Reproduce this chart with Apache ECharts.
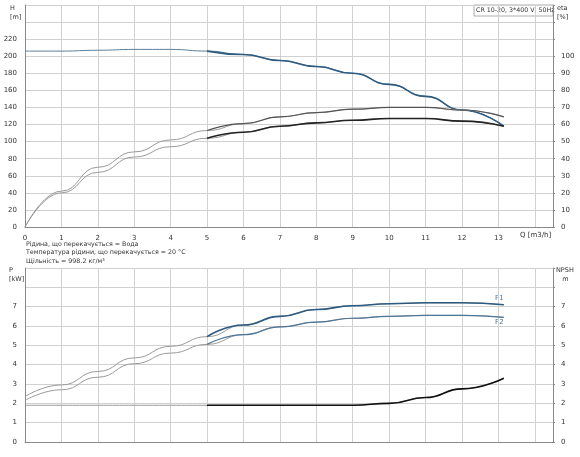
<!DOCTYPE html>
<html><head><meta charset="utf-8">
<script src="https://cdn.jsdelivr.net/npm/echarts@6/dist/echarts.min.js"></script>
<style>body{margin:0;background:#fff}#c{width:580px;height:457px}</style></head>
<body><div id="c"></div>
<script>
const qTop = [0,1,2,3,4,5,6,7,8,9,10,11,12,13.15];
const headH = [206,206,207,208,208,206,202,195,188,180,167,153,137,118];
const eta1 = [0,21,35,44,51,56.5,60.5,64.5,67,69,70,70,68.5,64.5];
const eta2 = [0,20,32,41,47,52,55.5,59,61,62.5,63.5,63.5,62,59];
const powerP1 = [2.35,2.95,3.65,4.35,4.95,5.45,6.05,6.5,6.85,7.05,7.15,7.2,7.2,7.1];
const powerP2 = [2.15,2.7,3.35,4.05,4.6,5.05,5.55,5.95,6.2,6.4,6.5,6.55,6.55,6.45];
const npsh = [1.9,1.9,1.9,1.9,1.9,1.9,1.9,1.9,1.9,1.9,2.0,2.3,2.75,3.3];
const xTicks = [0,1,2,3,4,5,6,7,8,9,10,11,12,13];
const infoLines = ['Рідина, що перекачується = Вода','Температура рідини, що перекачується = 20 °C','Щільність = 998.2 кг/м³'];

const pairs = (ys, from=0) => qTop.map((q,i)=>[q,ys[i]]).filter(p=>p[0]>=from);
const axisLbl = {fontSize:7,color:'#333',fontFamily:'DejaVu Sans'};
const split = {show:true,lineStyle:{color:'#d0d0d0',width:1}};
const axLine = {show:true,lineStyle:{color:'#888'}};
function line(x,y,data,color,w){return {type:'line',xAxisIndex:x,yAxisIndex:y,data,smooth:0.5,smoothMonotone:'x',symbol:'none',lineStyle:{color,width:w},silent:true};}
const chart = echarts.init(document.getElementById('c'));
chart.setOption({
  animation:false,
  grid:[{left:25,right:27,top:5,height:222},{left:25,right:27,top:268,height:174}],
  xAxis:[
    {gridIndex:0,type:'value',min:0,max:14.5,interval:1,axisLabel:{...axisLbl,formatter:v=>xTicks.includes(v)?v:''},axisLine:axLine,axisTick:{show:false},splitLine:split},
    {gridIndex:1,type:'value',min:0,max:14.5,interval:1,axisLabel:{show:false},axisLine:axLine,axisTick:{show:false},splitLine:split}
  ],
  yAxis:[
    {gridIndex:0,type:'value',min:0,max:260,interval:20,axisLabel:{...axisLbl,formatter:v=>v<=220?v:''},axisLine:axLine,axisTick:{show:false},splitLine:split},
    {gridIndex:0,type:'value',min:0,max:130,interval:10,position:'right',axisLabel:{...axisLbl,formatter:v=>v<=100?v:''},axisLine:axLine,axisTick:{show:true,length:2},splitLine:{show:false}},
    {gridIndex:1,type:'value',min:0,max:9,interval:1,axisLabel:{...axisLbl,formatter:v=>v<=7?v:''},axisLine:axLine,axisTick:{show:false},splitLine:split},
    {gridIndex:1,type:'value',min:0,max:9,interval:1,position:'right',axisLabel:{...axisLbl,formatter:v=>v<=7?v:''},axisLine:axLine,axisTick:{show:true,length:2},splitLine:{show:false}}
  ],
  series:[
    line(0,0,pairs(headH),'#5a7f9c',1),
    line(0,0,pairs(headH,5),'#2d5b80',1.6),
    line(0,1,pairs(eta1),'#9a9a9a',1),
    line(0,1,pairs(eta1,5),'#555',1.2),
    line(0,1,pairs(eta2),'#9a9a9a',1),
    line(0,1,pairs(eta2,5),'#222',1.6),
    line(1,2,pairs(powerP1),'#9a9a9a',1),
    line(1,2,pairs(powerP1,5),'#2d5b80',1.6),
    line(1,2,pairs(powerP2),'#9a9a9a',1),
    line(1,2,pairs(powerP2,5),'#4f7797',1.2),
    line(1,3,pairs(npsh),'#9a9a9a',1),
    line(1,3,pairs(npsh,5),'#111',1.6)
  ],
  graphic:[
    {type:'text',left:10,top:4,style:{text:'H\n[m]',font:'6.5px DejaVu Sans',fill:'#333',align:'center',lineHeight:9}},
    {type:'text',left:557,top:4,style:{text:'eta\n[%]',font:'6.5px DejaVu Sans',fill:'#333',lineHeight:9}},
    {type:'rect',shape:{x:474,y:5,width:79,height:11},style:{fill:'#fff',stroke:'#999',lineWidth:0.8}},
    {type:'text',left:476,top:7,style:{text:'CR 10-20, 3*400 V, 50Hz',font:'6.3px DejaVu Sans',fill:'#333'}},
    {type:'text',left:520,top:232,style:{text:'Q [m3/h]',font:'7px DejaVu Sans',fill:'#333'}},
    {type:'text',left:26,top:240,style:{text:infoLines.join('\n'),font:'6.3px DejaVu Sans',fill:'#333',lineHeight:8.5}},
    {type:'text',left:9,top:266,style:{text:'P\n[kW]',font:'6.5px DejaVu Sans',fill:'#333',lineHeight:9}},
    {type:'text',left:556,top:266,style:{text:'NPSH\n   m',font:'6.5px DejaVu Sans',fill:'#333',lineHeight:9}},
    {type:'text',left:495,top:295,style:{text:'P1',font:'7px DejaVu Sans',fill:'#4f7797'}},
    {type:'text',left:495,top:319,style:{text:'P2',font:'7px DejaVu Sans',fill:'#4f7797'}}
  ]
});
</script></body></html>
